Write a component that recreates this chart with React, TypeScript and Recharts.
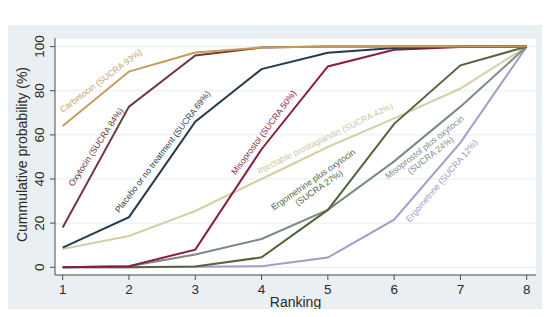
import { CartesianGrid, Line, LineChart, ReferenceDot, XAxis, YAxis } from "recharts";

const RANKS = [1, 2, 3, 4, 5, 6, 7, 8];
const Y_TICKS = [0, 20, 40, 60, 80, 100];

// cumulative probability (%) per rank
const carbetocin = [64, 88.7, 97.3, 99.6, 100, 100, 100, 100];
const oxytocin = [18, 72.8, 96, 99.6, 100, 100, 100, 100];
const placebo = [8.9, 22.7, 66, 89.8, 97.2, 99.4, 100, 100];
const misoprostol = [0, 0.5, 8, 53.5, 91, 98.6, 99.8, 100];
const injectable = [8.3, 14.2, 25.5, 40, 54.5, 67.5, 81, 100];
const ergoOxy = [0, 0, 0.3, 4.5, 26, 65, 91.5, 100];
const misoOxy = [0, 0.5, 5.8, 12.8, 26, 48, 72.8, 100];
const ergometrine = [0, 0, 0.2, 0.5, 4.4, 21.6, 56.5, 100];

const SERIES = [
  { key: "injectable", values: injectable, color: "#d3cfa6" },
  { key: "ergometrine", values: ergometrine, color: "#a29ec8" },
  { key: "misoOxy", values: misoOxy, color: "#7a8a84" },
  { key: "ergoOxy", values: ergoOxy, color: "#55643e" },
  { key: "misoprostol", values: misoprostol, color: "#8a1e40" },
  { key: "placebo", values: placebo, color: "#253a4c" },
  { key: "oxytocin", values: oxytocin, color: "#6e383c" },
  { key: "carbetocin", values: carbetocin, color: "#c89a58" },
];

// in-plot labels, placed in data coordinates (rank, %)
const LABELS = [
  { lines: ["Carbetocin (SUCRA 93%)"], x: 1.575, y: 84.5, angle: -36.7, color: "#c6a673" },
  { lines: ["Oxytocin (SUCRA 84%)"], x: 1.5, y: 54.5, angle: -56.6, color: "#6e3a3e" },
  { lines: ["Placebo or no treatment (SUCRA 69%)"], x: 2.506, y: 52.4, angle: -52.6, color: "#2e3f50" },
  { lines: ["Misoprostol (SUCRA 50%)"], x: 4.032, y: 61.1, angle: -53.4, color: "#8c2a48" },
  { lines: ["Injectable prostaglandin (SUCRA 42%)"], x: 4.957, y: 58.5, angle: -26, color: "#cac7a2" },
  { lines: ["Ergometrine plus oxytocin", "(SUCRA 27%)"], x: 4.822, y: 37.9, angle: -34.7, color: "#56653f" },
  { lines: ["Misoprostol plus oxytocin", "(SUCRA 24%)"], x: 6.503, y: 52.6, angle: -37.8, color: "#7f8c88" },
  { lines: ["Ergometrine (SUCRA 12%)"], x: 6.717, y: 39.2, angle: -49.4, color: "#a09cc4" },
];

const data = RANKS.map((r, i) => {
  const row: Record<string, number> = { r };
  SERIES.forEach((s) => (row[s.key] = s.values[i]));
  return row;
});

const FONT = "'Liberation Sans', Arial, sans-serif";
const AXIS_COLOR = "#4d4d4d";
const TEXT = "#2a2a2a";

function YTick(props: any) {
  const { y, payload } = props;
  return (
    <text x={44} y={y} transform={`rotate(-90, 44, ${y})`} textAnchor="middle" fontSize={13.5} fontFamily={FONT} fill={TEXT}>
      {payload.value}
    </text>
  );
}

function XTick(props: any) {
  const { x, payload } = props;
  return (
    <text x={x} y={294} textAnchor="middle" fontSize={13.5} fontFamily={FONT} fill={TEXT}>
      {payload.value}
    </text>
  );
}

function YTitle(props: any) {
  const vb = props.viewBox || {};
  const cy = (vb.y ?? 38) + (vb.height ?? 237) / 2 - 2;
  return (
    <text x={27} y={cy} transform={`rotate(-90, 27, ${cy})`} textAnchor="middle" fontSize={14} fontFamily={FONT} fill={TEXT}>
      Cummulative probability (%)
    </text>
  );
}

function XTitle(props: any) {
  const vb = props.viewBox || {};
  const cx = (vb.x ?? 55) + (vb.width ?? 481) / 2;
  return (
    <text x={cx} y={307} textAnchor="middle" fontSize={14} fontFamily={FONT} fill={TEXT}>
      Ranking
    </text>
  );
}

function labelShape(lines: string[], angle: number, color: string) {
  return (p: any) => {
    const { cx, cy } = p;
    const off = ((lines.length - 1) * 10) / 2;
    return (
      <text transform={`translate(${cx}, ${cy}) rotate(${angle})`} textAnchor="middle" fontSize={8.7} fontFamily={FONT} fill={color}>
        {lines.map((t, i) => (
          <tspan key={i} x={0} y={i * 10 - off + 3}>
            {t}
          </tspan>
        ))}
      </text>
    );
  };
}

export default function App() {
  return (
    <div style={{ margin: -8, width: 550, height: 317, position: "relative", background: "#fff", overflow: "hidden" }}>
      <div style={{ position: "absolute", left: 0, top: 25, width: 550, height: 292, background: "#e9eff2" }} />
      <div style={{ position: "absolute", left: 0, top: 0 }}>
        <LineChart width={550} height={317} data={data} margin={{ top: 38, right: 14, bottom: 12, left: 0 }}>
          <CartesianGrid vertical={false} stroke="#e7edf0" fill="#ffffff" />
          <XAxis
            dataKey="r"
            type="number"
            domain={[0.884, 8.14]}
            ticks={RANKS}
            height={30}
            stroke={AXIS_COLOR}
            tickSize={5}
            tick={<XTick />}
            label={{ content: XTitle }}
          />
          <YAxis
            type="number"
            domain={[-3.5, 103.9]}
            ticks={Y_TICKS}
            width={55}
            stroke={AXIS_COLOR}
            tickSize={5}
            tick={<YTick />}
            label={{ content: YTitle }}
          />
          {SERIES.map((s) => (
            <Line key={s.key} dataKey={s.key} stroke={s.color} strokeWidth={2} dot={false} type="linear" isAnimationActive={false} />
          ))}
          {LABELS.map((l, i) => (
            <ReferenceDot key={i} x={l.x} y={l.y} r={0} shape={labelShape(l.lines, l.angle, l.color)} />
          ))}
        </LineChart>
      </div>
    </div>
  );
}
